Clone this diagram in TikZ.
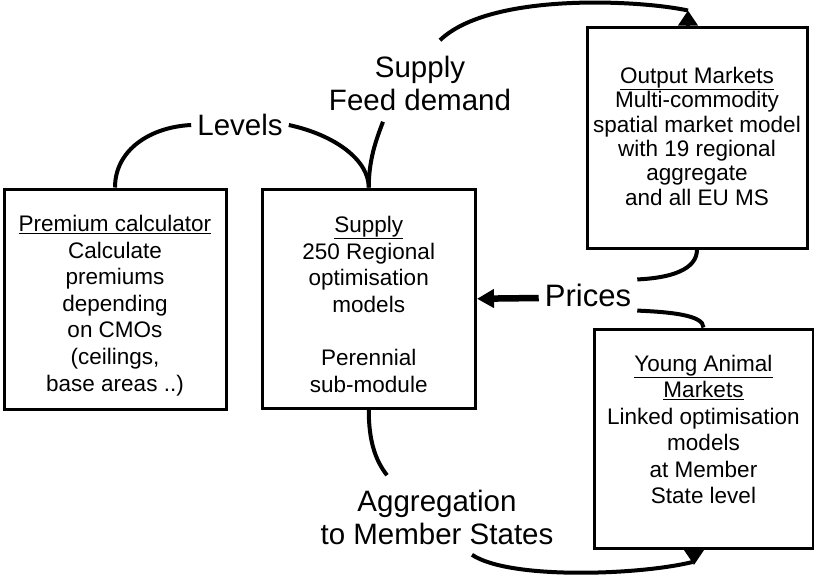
\documentclass[tikz,border=0pt]{standalone}
\usepackage{fontspec}
\setmainfont{Liberation Sans}
\usetikzlibrary{arrows.meta}
\tikzset{
	box/.style={draw, line width=3pt, inner sep=0pt},
	boxtext/.style={align=center, anchor=north, inner sep=0pt, font=\fontsize{22.5}{26.6}\selectfont},
	flowlabel/.style={align=center, inner xsep=6pt, inner ysep=4pt, font=\fontsize{29.5}{32.5}\selectfont},
	link/.style={line width=4pt},
	linktip/.style={line width=4pt, -{Triangle[length=15pt,width=19pt]}},
	pricearrow/.style={line width=6.5pt, -{Triangle[length=17pt,width=18pt]}},
}
\begin{document}
\begin{tikzpicture}[x=1pt, y=-1pt]
	\useasboundingbox (0,0) rectangle (814,574);
	\node[box, minimum width=222pt, minimum height=220pt] (pc) at (115,299) {};
	\node[box, minimum width=213.5pt, minimum height=219.5pt] (sup) at (368.75,298.75) {};
	\node[box, minimum width=220pt, minimum height=221pt] (om) at (697,137.5) {};
	\node[box, minimum width=219pt, minimum height=219.5pt] (yam) at (703.5,438.75) {};
	
	\node[boxtext] (pctxt) at (115,215) {\underline{Premium calculator}\\Calculate\\premiums\\depending\\on CMOs\\(ceilings,\\base areas ..)};
	\node[boxtext] (suptxt) at (368.75,216) {\underline{Supply}\\250 Regional\\optimisation\\models\\[26.6pt]Perennial\\sub-module};
	\node[boxtext, font=\fontsize{22.5}{24.3}\selectfont] (omtxt) at (697,67) {\underline{Output Markets}\\Multi-commodity\\spatial market model\\with 19 regional\\aggregate\\and all EU MS};
	\node[boxtext, font=\fontsize{22.5}{26.4}\selectfont] (yamtxt) at (703.5,355) {\underline{Young Animal}\\\underline{Markets}\\Linked optimisation\\models\\at Member\\State level};
	
	\node[flowlabel] (lev) at (240,125) {Levels};
	\node[flowlabel] (sfd) at (420,83.5) {Supply\\Feed demand};
	\node[flowlabel, font=\fontsize{31}{32.5}\selectfont] (pri) at (588,295) {Prices};
	\node[flowlabel] (agg) at (437,517.5) {Aggregation\\to Member States};
	
	\draw[link] (pc.north) .. controls (115,150) and (150,127) .. (lev.west);
	\draw[link] (lev.east) .. controls (335,135) and (368.75,160) .. (sup.north);
	\draw[link] (sup.north) .. controls (368.75,160) and (376,140) .. ([xshift=-37pt,yshift=-7pt]sfd.south);
	\draw[link] ([xshift=20pt,yshift=12pt]sfd.north) .. controls (490,-8) and (640,0) .. ([xshift=-9pt,yshift=15pt]om.north);
	\draw[linktip] ([xshift=-9pt]om.north) -- ([xshift=-9pt,yshift=15pt]om.north);
	\draw[link] (om.south) .. controls (697,270) and (670,278) .. (pri.north east);
	\draw[pricearrow] ([yshift=-3pt]pri.west) -- (sup.east);
	\draw[link] (pri.south east) .. controls (670,312) and (703.5,315) .. (yam.north);
	\draw[link] (sup.south) .. controls (368.75,440) and (375,460) .. ([xshift=-50pt,yshift=11pt]agg.north);
	\draw[link] ([xshift=35pt,yshift=-6pt]agg.south) .. controls (510,580) and (640,575) .. ([xshift=-11pt,yshift=-12pt]yam.south);
	\draw[linktip] ([xshift=-9.5pt]yam.south) -- ([xshift=-9.5pt,yshift=-15pt]yam.south);
\end{tikzpicture}
\end{document}
